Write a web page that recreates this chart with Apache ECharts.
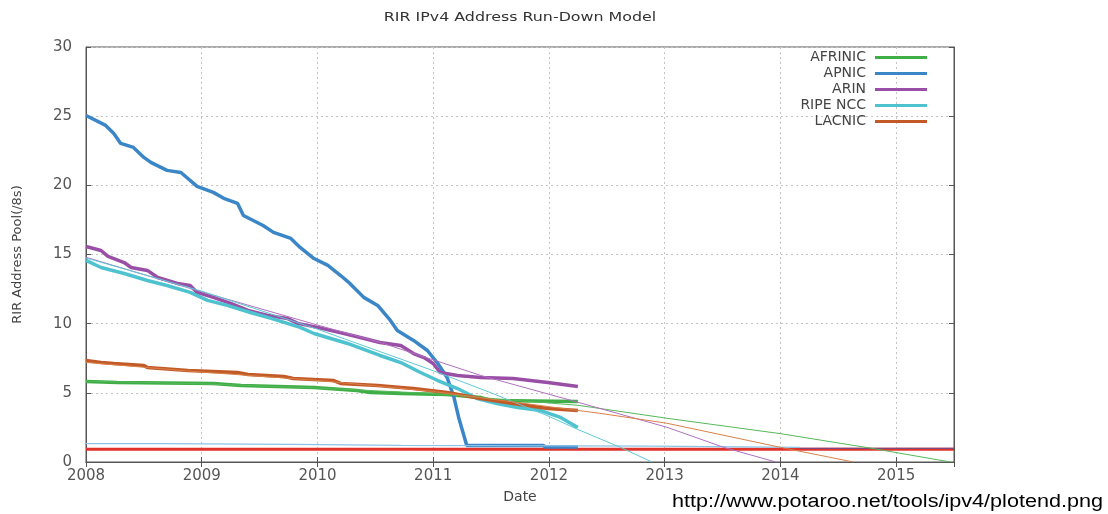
<!DOCTYPE html>
<html>
<head>
<meta charset="utf-8">
<script src="https://cdn.jsdelivr.net/npm/echarts@6/dist/echarts.min.js"></script>
<style>
html,body{margin:0;padding:0;background:#fff;}
#chart{width:1108px;height:514px;}
</style>
</head>
<body>
<div id="chart"></div>
<script>
// ---- Data (year, /8s) ----
const titleText = 'RIR IPv4 Address Run-Down Model';
const xTicks = [2008, 2009, 2010, 2011, 2012, 2013, 2014, 2015];
const yTicks = [0, 5, 10, 15, 20, 25, 30];
const legendNames = ['AFRINIC', 'APNIC', 'ARIN', 'RIPE NCC', 'LACNIC'];

const afrinic = [[2008.00,5.82],[2008.27,5.75],[2009.10,5.68],[2009.34,5.53],[2009.97,5.39],[2010.34,5.17],[2010.46,5.02],[2010.72,4.95],[2011.12,4.88],[2011.41,4.66],[2011.49,4.45],[2012.25,4.37]];
const apnic = [[2008.00,25.05],[2008.17,24.33],[2008.24,23.75],[2008.30,23.03],[2008.41,22.74],[2008.50,22.02],[2008.56,21.66],[2008.70,21.08],[2008.82,20.93],[2008.96,19.92],[2009.10,19.49],[2009.19,19.06],[2009.31,18.69],[2009.36,17.82],[2009.53,17.10],[2009.62,16.60],[2009.77,16.16],[2009.85,15.51],[2009.97,14.71],[2010.09,14.21],[2010.20,13.48],[2010.28,12.91],[2010.40,11.90],[2010.52,11.32],[2010.63,10.23],[2010.69,9.51],[2010.83,8.79],[2010.95,8.06],[2011.04,7.12],[2011.12,6.11],[2011.18,4.66],[2011.22,3.22],[2011.26,2.06],[2011.29,1.19],[2011.95,1.19],[2011.97,1.08],[2012.25,1.08]];
const arin = [[2008.00,15.58],[2008.13,15.29],[2008.19,14.86],[2008.33,14.42],[2008.39,14.06],[2008.53,13.85],[2008.62,13.34],[2008.79,12.91],[2008.90,12.76],[2008.96,12.26],[2009.10,11.90],[2009.25,11.46],[2009.40,10.96],[2009.57,10.60],[2009.74,10.38],[2009.83,10.02],[2010.00,9.73],[2010.23,9.29],[2010.37,9.00],[2010.54,8.64],[2010.72,8.42],[2010.83,7.84],[2010.92,7.55],[2011.00,7.12],[2011.06,6.47],[2011.21,6.26],[2011.41,6.11],[2011.69,6.04],[2011.99,5.75],[2012.25,5.46]];
const ripe = [[2008.00,14.57],[2008.13,14.06],[2008.33,13.63],[2008.53,13.12],[2008.70,12.76],[2008.90,12.26],[2009.05,11.68],[2009.22,11.32],[2009.42,10.81],[2009.60,10.38],[2009.74,10.02],[2009.85,9.73],[2009.97,9.29],[2010.26,8.57],[2010.54,7.70],[2010.72,7.19],[2010.89,6.47],[2011.04,5.89],[2011.21,5.31],[2011.38,4.59],[2011.55,4.23],[2011.73,3.94],[2011.93,3.72],[2012.10,3.22],[2012.25,2.49]];
const lacnic = [[2008.00,7.34],[2008.13,7.20],[2008.24,7.12],[2008.50,6.98],[2008.53,6.83],[2008.88,6.62],[2009.31,6.47],[2009.40,6.33],[2009.71,6.18],[2009.79,6.04],[2010.14,5.89],[2010.20,5.68],[2010.52,5.53],[2010.72,5.39],[2010.83,5.31],[2011.12,5.02],[2011.41,4.59],[2011.69,4.23],[2011.99,3.87],[2012.25,3.72]];

// thin projection curves
const afrinicFit = [[2008,5.85],[2009,5.65],[2010,5.35],[2011,4.95],[2011.5,4.6],[2012.25,4.1],[2013.03,3.15],[2014,2.05],[2014.78,1.0],[2015.47,0]];
const arinFit = [[2008,14.8],[2009,12.3],[2010,9.9],[2010.54,8.65],[2011.41,6.26],[2012.25,4.32],[2013.02,2.51],[2013.51,1.06],[2013.96,0]];
const ripeFit = [[2008,14.75],[2009,12.35],[2010,9.6],[2011,6.6],[2011.5,5.0],[2012,3.3],[2012.25,2.35],[2012.62,1.05],[2012.89,0]];
const lacnicFit = [[2008,7.2],[2009,6.5],[2010,5.9],[2011,5.1],[2012,4.0],[2012.44,3.52],[2013.02,2.8],[2013.59,1.79],[2014.0,1.06],[2014.63,0]];
const apnicFit = [[2008,1.33],[2008.65,1.33],[2008.65,1.27],[2009.79,1.27],[2009.79,1.2],[2010.72,1.2],[2010.72,1.15],[2012.9,1.15],[2012.9,1.06],[2014.17,1.06]];
const tailLine = [[2014.17,0.99],[2015.5,0.99]];
const threshold = [[2008,0.93],[2015.5,0.93]];

const urlText = 'http://www.potaroo.net/tools/ipv4/plotend.png';

// ---- Chart ----
const FONT = 'DejaVu Sans';
const chart = echarts.init(document.getElementById('chart'), null, {renderer:'canvas'});

function thick(name, data, color){
  return {name, type:'line', data, showSymbol:false, symbol:'none', z:3,
    lineStyle:{color, width:3.5}, itemStyle:{color}};
}
function thin(name, data, color, w){
  return {name, type:'line', data, showSymbol:false, symbol:'none', z:4,
    lineStyle:{color, width:w||1}, itemStyle:{color}};
}

const axisCol = '#555';
chart.setOption({
  animation:false,
  backgroundColor:'#fff',
  grid:{left:86, right:154, top:47, bottom:52, containLabel:false, outerBoundsMode:'none',
        show:true, borderColor:axisCol, borderWidth:1, backgroundColor:'transparent'},
  graphic:[
    {type:'text', x:520, y:18, scaleX:1.22,
     style:{text:titleText, font:'13px "DejaVu Sans"', fill:'#333', textAlign:'center', textVerticalAlign:'middle'}},
    {type:'text', x:1103, y:502, scaleX:1.2,
     style:{text:urlText, font:'18px "Liberation Sans", Arial', fill:'#000', textAlign:'right', textVerticalAlign:'middle'}}
  ],
  legend:{
    data:legendNames, orient:'vertical', align:'right', right:176, top:45,
    itemWidth:52, itemHeight:3, itemGap:1, icon:'rect',
    textStyle:{fontFamily:FONT, fontSize:14, color:'#444', lineHeight:15, padding:[0,4,0,0]}
  },
  xAxis:[{
    type:'value', min:2008, max:2015.5, interval:1,
    name:'Date', nameLocation:'middle', nameGap:28,
    nameTextStyle:{fontFamily:FONT, fontSize:14, color:'#444'},
    axisLine:{show:true, lineStyle:{color:axisCol, width:1}},
    axisTick:{show:true, inside:true, length:5, lineStyle:{color:axisCol}},
    axisLabel:{fontFamily:FONT, fontSize:15, color:'#555', margin:7,
      formatter:v => (xTicks.indexOf(v) >= 0 ? String(v) : '')},
    splitLine:{show:true, lineStyle:{color:'#c4c4c4', type:[2,3], width:1}}
  },{
    type:'value', min:2008, max:2015.5, interval:1, position:'top',
    axisLine:{show:true, lineStyle:{color:axisCol, width:1}},
    axisTick:{show:true, inside:true, length:5, lineStyle:{color:axisCol}},
    axisLabel:{show:false}, splitLine:{show:false}
  }],
  yAxis:[{
    type:'value', min:0, max:30, interval:5,
    name:'RIR Address Pool(/8s)', nameLocation:'middle', nameGap:62,
    nameTextStyle:{fontFamily:FONT, fontSize:13, color:'#444'},
    axisLine:{show:true, lineStyle:{color:axisCol, width:1}},
    axisTick:{show:true, inside:true, length:5, lineStyle:{color:axisCol}},
    axisLabel:{fontFamily:FONT, fontSize:15, color:'#555', margin:14,
      formatter:v => (yTicks.indexOf(v) >= 0 ? String(v) : '')},
    splitLine:{show:true, lineStyle:{color:'#c4c4c4', type:[2,3], width:1}}
  },{
    type:'value', min:0, max:30, interval:5, position:'right',
    axisLine:{show:true, lineStyle:{color:axisCol, width:1}},
    axisTick:{show:true, inside:true, length:5, lineStyle:{color:axisCol}},
    axisLabel:{show:false}, splitLine:{show:false}
  }],
  series:[
    {name:'threshold', type:'line', data:threshold, symbol:'none', z:2, lineStyle:{color:'#e2332b', width:3}},
    thin('APNIC fit', apnicFit, '#8cc3e6', 1.3),
    thin('tail', tailLine, '#7a4a80', 1.2),
    thick('AFRINIC', afrinic, '#3fae46'),
    thick('APNIC', apnic, '#3b86c6'),
    thick('ARIN', arin, '#9a4fa6'),
    thick('RIPE NCC', ripe, '#4fc2d0'),
    thick('LACNIC', lacnic, '#c25a28'),
    thin('AFRINIC fit', afrinicFit, '#55b85a'),
    thin('ARIN fit', arinFit, '#b070c0'),
    thin('RIPE NCC fit', ripeFit, '#5ec8d6'),
    thin('LACNIC fit', lacnicFit, '#d98048')
  ]
});
</script>
</body>
</html>
